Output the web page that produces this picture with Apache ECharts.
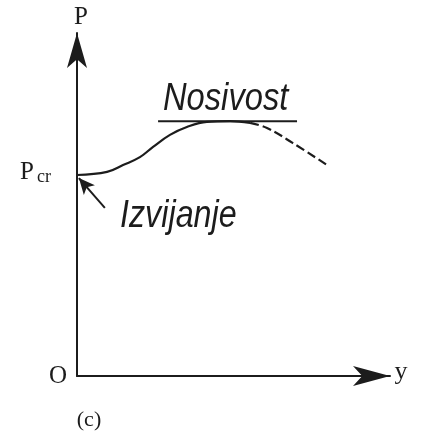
<!DOCTYPE html>
<html>
<head>
<meta charset="utf-8">
<script src="https://cdn.jsdelivr.net/npm/echarts@6/dist/echarts.min.js"></script>
<style>
  html, body { margin: 0; padding: 0; background: #fff; }
  #chart { width: 421px; height: 435px; }
</style>
</head>
<body>
<div id="chart"></div>
<script>
// Load–deflection path: stable part up to the load-bearing maximum
const pathSolid = [
  [0, 58.6], [9.6, 59.5], [14.7, 61.5], [20.1, 63.8], [24.3, 66.8],
  [29.7, 70.3], [35.1, 72.6], [41.5, 74.1], [48.9, 74.3], [55.3, 73.8]
];
// Descending branch after the maximum (dashed)
const pathDashed = [
  [55.3, 73.8], [60.7, 72.3], [69.0, 67.9], [79.9, 61.5]
];
// Horizontal tangent at the maximum load
const capacityLine = [[25.9, 74.3], [70.3, 74.3]];
// Pointer to the bifurcation point on the P axis
const bucklingPointer = { from: [8.9, 49.0], to: [0.6, 57.7] };

const labels = {
  yAxis: 'P',
  xAxis: 'y',
  origin: 'O',
  critical: 'P',
  criticalSub: 'cr',
  capacity: 'Nosivost',
  buckling: 'Izvijanje',
  caption: '(c)'
};

const ink = '#1c1c1c';
const serif = '"Liberation Serif", "Times New Roman", serif';
const sans = '"Liberation Sans", Arial, sans-serif';

const chart = echarts.init(document.getElementById('chart'));
chart.setOption({
  animation: false,
  backgroundColor: '#fff',
  grid: { left: 77, right: 31, top: 33, bottom: 59 },
  xAxis: {
    type: 'value', min: 0, max: 100,
    axisLine: { lineStyle: { color: ink, width: 2 }, symbol: ['none', 'arrow'], symbolSize: [15, 37] },
    axisTick: { show: false }, axisLabel: { show: false }, splitLine: { show: false }
  },
  yAxis: {
    type: 'value', min: 0, max: 100,
    axisLine: { lineStyle: { color: ink, width: 2 }, symbol: ['none', 'arrow'], symbolSize: [15, 35] },
    axisTick: { show: false }, axisLabel: { show: false }, splitLine: { show: false }
  },
  series: [
    {
      type: 'line', data: pathSolid, smooth: 0.4, showSymbol: false,
      lineStyle: { color: ink, width: 2.2 },
      markLine: {
        silent: true,
        symbol: ['none', 'arrow'],
        symbolSize: [11, 16],
        lineStyle: { color: ink, width: 2, type: 'solid' },
        label: { show: false },
        data: [[{ coord: bucklingPointer.from }, { coord: bucklingPointer.to }]]
      }
    },
    {
      type: 'line', data: pathDashed, smooth: 0.4, showSymbol: false,
      lineStyle: { color: ink, width: 2.2, type: [9, 4] }
    },
    {
      type: 'line', data: capacityLine, showSymbol: false,
      lineStyle: { color: ink, width: 2 }
    }
  ],
  graphic: [
    { type: 'text', x: 81, y: 17, style: { text: labels.yAxis, font: '25px ' + serif, fill: ink, align: 'center', verticalAlign: 'middle' } },
    { type: 'text', x: 401, y: 372, style: { text: labels.xAxis, font: '26px ' + serif, fill: ink, align: 'center', verticalAlign: 'middle' } },
    { type: 'text', x: 58, y: 376, style: { text: labels.origin, font: '25px ' + serif, fill: ink, align: 'center', verticalAlign: 'middle' } },
    { type: 'text', x: 89, y: 420, style: { text: labels.caption, font: '22px ' + serif, fill: ink, align: 'center', verticalAlign: 'middle' } },
    { type: 'text', x: 20, y: 172, style: { text: labels.critical, font: '25px ' + serif, fill: ink, align: 'left', verticalAlign: 'middle' } },
    { type: 'text', x: 37, y: 177, style: { text: labels.criticalSub, font: '18px ' + serif, fill: ink, align: 'left', verticalAlign: 'middle' } },
    { type: 'text', x: 163, y: 99, scaleX: 0.86, style: { text: labels.capacity, font: 'italic 38px ' + sans, fill: ink, align: 'left', verticalAlign: 'middle' } },
    { type: 'text', x: 120, y: 216, scaleX: 0.85, style: { text: labels.buckling, font: 'italic 38px ' + sans, fill: ink, align: 'left', verticalAlign: 'middle' } }
  ]
});
</script>
</body>
</html>
